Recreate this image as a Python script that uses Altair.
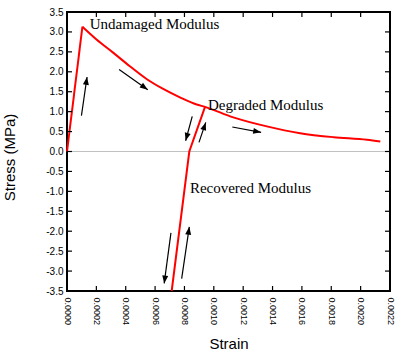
import math
import altair as alt
import pandas as pd

# ---- data ----
rise_strain = [0.0, 0.000105]
rise_stress = [0.0, 3.13]

decay_strain = [0.000105, 0.000201, 0.000314, 0.000428, 0.000542, 0.000655, 0.000769,
                0.000883, 0.00094, 0.001133, 0.001361, 0.001588, 0.001816, 0.002044, 0.002134]
decay_stress = [3.13, 2.81, 2.48, 2.14, 1.82, 1.57, 1.36,
                1.18, 1.12, 0.856, 0.63, 0.46, 0.36, 0.295, 0.25]

recov_strain = [0.00094, 0.000833, 0.000713]
recov_stress = [1.12, 0.0, -3.5]

arrow_x1 = [0.0000983, 0.000355, 0.000853, 0.000899, 0.001126, 0.000708, 0.000781]
arrow_y1 = [0.90, 2.06, 0.88, 0.23, 0.615, -2.04, -3.19]
arrow_x2 = [0.0001365, 0.000550, 0.000808, 0.000945, 0.001322, 0.000662, 0.000833]
arrow_y2 = [1.87, 1.55, 0.27, 0.73, 0.48, -3.31, -1.89]

label_text = ["Undamaged Modulus", "Degraded Modulus", "Recovered Modulus"]
label_strain = [0.000155, 0.00096, 0.000837]
label_stress = [3.08, 1.05, -1.05]

x_ticks = [round(i * 0.0002, 4) for i in range(12)]
y_ticks = [round(-3.5 + i * 0.5, 1) for i in range(15)]

X_DOMAIN = [0, 0.0022]
Y_DOMAIN = [-3.5, 3.5]
W, H = 323, 279

# ---- tables ----
curve = pd.concat([
    pd.DataFrame({"strain": rise_strain, "stress": rise_stress, "seg": "rise", "o": range(len(rise_strain))}),
    pd.DataFrame({"strain": decay_strain, "stress": decay_stress, "seg": "decay", "o": range(len(decay_strain))}),
    pd.DataFrame({"strain": recov_strain, "stress": recov_stress, "seg": "recov", "o": range(len(recov_strain))}),
])

sx = W / (X_DOMAIN[1] - X_DOMAIN[0])
sy = H / (Y_DOMAIN[1] - Y_DOMAIN[0])
angles = []
for a, b, c, d in zip(arrow_x1, arrow_y1, arrow_x2, arrow_y2):
    ang = math.degrees(math.atan2((c - a) * sx, (d - b) * sy)) % 360
    angles.append(ang)
arrows = pd.DataFrame({"strain": arrow_x1, "stress": arrow_y1,
                       "strain2": arrow_x2, "stress2": arrow_y2, "angle": angles})
heads = pd.DataFrame({"strain": arrow_x2, "stress": arrow_y2, "angle": angles})
labels = pd.DataFrame({"text": label_text, "strain": label_strain, "stress": label_stress})
xt = pd.DataFrame({"strain": x_ticks})
yt = pd.DataFrame({"stress": y_ticks})

xscale = alt.Scale(domain=X_DOMAIN, nice=False, zero=False)
yscale = alt.Scale(domain=Y_DOMAIN, nice=False, zero=False)

xaxis = alt.Axis(values=x_ticks, labelExpr="format(datum.value, '.4f')", labelAngle=90,
                 labelFont="Liberation Sans", labelFontSize=9, labelColor="black",
                 labelPadding=6, labelOverlap=False, labelFlush=False,
                 ticks=False, domain=False, grid=False,
                 title="Strain", titleFont="Liberation Sans", titleFontSize=15,
                 titleFontWeight="normal", titleColor="black",
                 titleBaseline="alphabetic", titleY=57, titleX=W / 2)
yaxis = alt.Axis(values=y_ticks, labelExpr="replace(format(datum.value, '.1f'), '\u2212', '-')",
                 labelFont="Liberation Sans", labelFontSize=10, labelColor="black",
                 labelPadding=4, labelOverlap=False, labelFlush=False,
                 ticks=False, domain=False, grid=False,
                 title="Stress (MPa)", titleFont="Liberation Sans", titleFontSize=15,
                 titleFontWeight="normal", titleColor="black", titleAngle=270,
                 titleBaseline="alphabetic", titleX=-53, titleY=145, titleAlign="center")

X = lambda f="strain:Q": alt.X(f, scale=xscale, axis=xaxis)
Y = lambda f="stress:Q": alt.Y(f, scale=yscale, axis=yaxis)

zero = alt.Chart(pd.DataFrame({"stress": [0.0]})).mark_rule(color="#c0c0c0", strokeWidth=1).encode(
    y=Y())

decay_line = alt.Chart(curve[curve.seg == "decay"]).mark_line(
    color="#ff0000", strokeWidth=2, interpolate="monotone").encode(
    x=X(), y=Y(), order="o:Q")
other_lines = alt.Chart(curve[curve.seg != "decay"]).mark_line(color="#ff0000", strokeWidth=2).encode(
    x=X(), y=Y(), detail="seg:N", order="o:Q")

arrow_lines = alt.Chart(arrows).mark_rule(color="black", strokeWidth=1.2).encode(
    x=X(), y=Y(), x2="strain2:Q", y2="stress2:Q")
arrow_heads = alt.Chart(heads).mark_point(
    shape="M0,0L-0.38,1L0.38,1Z", filled=True, color="black", opacity=1, size=250).encode(
    x=X(), y=Y(), angle=alt.Angle("angle:Q", scale=None))

texts = alt.Chart(labels).mark_text(font="Liberation Serif", fontSize=15, align="left",
                                    baseline="alphabetic", color="black").encode(
    x=X(), y=Y(), text="text:N")

tick_len = 5
bt = alt.Chart(xt).mark_rule(color="black", strokeWidth=1.2).encode(
    x=X(), y=alt.value(H), y2=alt.value(H - tick_len))
tt = alt.Chart(xt).mark_rule(color="black", strokeWidth=1.2).encode(
    x=X(), y=alt.value(0), y2=alt.value(tick_len))
lt = alt.Chart(yt).mark_rule(color="black", strokeWidth=1.2).encode(
    y=Y(), x=alt.value(0), x2=alt.value(tick_len))
rt = alt.Chart(yt).mark_rule(color="black", strokeWidth=1.2).encode(
    y=Y(), x=alt.value(W), x2=alt.value(W - tick_len))

chart = alt.layer(zero, other_lines, decay_line, arrow_lines, arrow_heads, texts, bt, tt, lt, rt).properties(
    width=W, height=H,
    autosize=alt.AutoSizeParams(type="none"),
    padding={"left": 67, "top": 12, "right": 10, "bottom": 62},
    background="white",
).configure_view(stroke="black", strokeWidth=2).configure_axis(labelOverlap=False, labelFlush=False)

chart.save("out.html", embed_options={"renderer": "svg", "actions": False})
